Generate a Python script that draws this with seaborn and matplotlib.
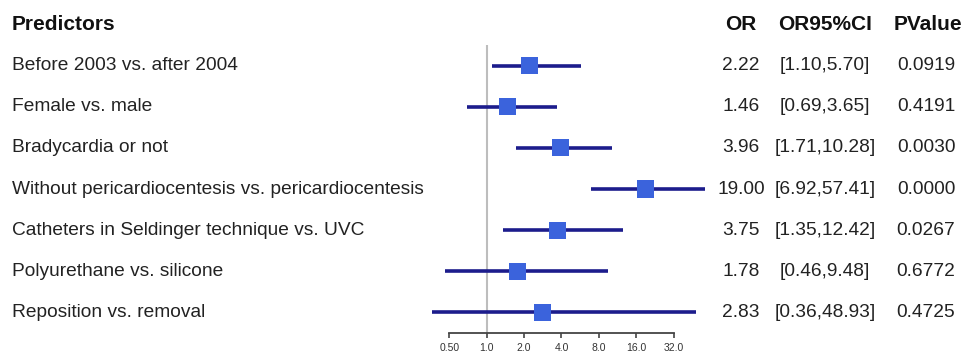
import numpy as np
import pandas as pd
import matplotlib
matplotlib.use("Agg")
import matplotlib.pyplot as plt
import matplotlib.transforms as mtransforms
import seaborn as sns

# Forest plot data
predictors = [
    "Before 2003 vs. after 2004",
    "Female vs. male",
    "Bradycardia or not",
    "Without pericardiocentesis vs. pericardiocentesis",
    "Catheters in Seldinger technique vs. UVC",
    "Polyurethane vs. silicone",
    "Reposition vs. removal",
]
odds_ratio = [2.22, 1.46, 3.96, 19.00, 3.75, 1.78, 2.83]
ci_low = [1.10, 0.69, 1.71, 6.92, 1.35, 0.46, 0.36]
ci_high = [5.70, 3.65, 10.28, 57.41, 12.42, 9.48, 48.93]
p_values = [0.0919, 0.4191, 0.0030, 0.0000, 0.0267, 0.6772, 0.4725]
tick_values = [0.5, 1, 2, 4, 8, 16, 32]
tick_labels = ["0.50", "1.0", "2.0", "4.0", "8.0", "16.0", "32.0"]

df = pd.DataFrame({
    "predictor": predictors,
    "OR": odds_ratio,
    "lo": ci_low,
    "hi": ci_high,
    "p": p_values,
})
df["row"] = np.arange(len(df))

sns.set_style("white")
plt.rcParams["font.family"] = ["Liberation Sans", "DejaVu Sans"]

W, H = 966, 356
fig = plt.figure(figsize=(W / 100, H / 100), dpi=100)
fig.patch.set_facecolor("white")

# plot panel in pixel terms: x 420..715, y 45..333 (from top)
ax = fig.add_axes([420 / W, (H - 333) / H, (715 - 420) / W, (333 - 45) / H])
ax.set_xscale("log", base=2)
ax.set_xlim(0.29, 69)
ax.set_ylim(len(df) - 0.5, -0.5)

ax.axvline(1, color="#bdbdbd", lw=1.5, zorder=1)
ax.hlines(df["row"], df["lo"], df["hi"], color="#1c1c8c", lw=2.6, zorder=2)
sns.scatterplot(data=df, x="OR", y="row", marker="s", s=150, color="#3b63dc",
                edgecolor="none", ax=ax, zorder=3, legend=False)

for s in ["top", "right", "left"]:
    ax.spines[s].set_visible(False)
ax.spines["bottom"].set_bounds(0.5, 32)
ax.spines["bottom"].set_color("#444444")
ax.spines["bottom"].set_linewidth(1.3)
ax.set_xticks(tick_values)
ax.set_xticklabels(tick_labels)
ax.xaxis.set_minor_locator(matplotlib.ticker.NullLocator())
ax.tick_params(axis="x", which="major", direction="out", length=3.5, width=1.2,
               color="#444444", labelsize=7.5, labelcolor="#333333", pad=3.5,
               bottom=True)
ax.set_yticks([])
ax.set_xlabel("")
ax.set_ylabel("")
ax.patch.set_alpha(0)

# text table
trans = mtransforms.blended_transform_factory(fig.transFigure, ax.transData)
txt = dict(fontsize=13.8, color="#222222", va="center", transform=trans)
hdr = dict(fontsize=15, color="#111111", va="center", fontweight="bold",
           transform=trans)

x_lab, x_or, x_ci, x_p = 12 / W, 741 / W, 825 / W, 926 / W
ax.text(x_lab, -1, "Predictors", ha="left", **hdr)
ax.text(x_or, -1, "OR", ha="center", **hdr)
ax.text(x_ci, -1, "OR95%CI", ha="center", **hdr)
ax.text(x_p + 2 / W, -1, "PValue", ha="center", **hdr)

for _, r in df.iterrows():
    ax.text(x_lab, r["row"], r["predictor"], ha="left", **txt)
    ax.text(x_or, r["row"], f"{r['OR']:.2f}", ha="center", **txt)
    ax.text(x_ci, r["row"], f"[{r['lo']:.2f},{r['hi']:.2f}]", ha="center", **txt)
    ax.text(x_p, r["row"], f"{r['p']:.4f}", ha="center", **txt)

fig.savefig("out.png", dpi=100, facecolor="white")
